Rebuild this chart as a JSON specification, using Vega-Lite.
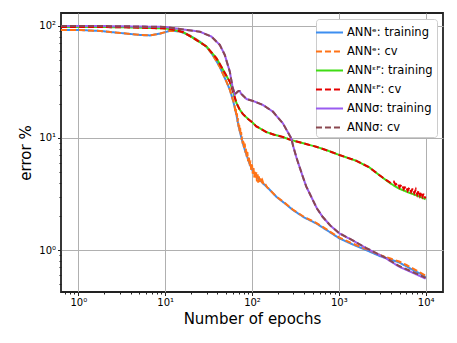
{
  "$schema": "https://vega.github.io/schema/vega-lite/v6.json",
  "width": 382,
  "height": 279,
  "autosize": {"type": "none"},
  "padding": {"left": 61, "top": 13, "right": 14, "bottom": 51},
  "background": "white",
  "config": {
    "font": "DejaVu Sans",
    "view": {"stroke": "#222222", "strokeWidth": 1.8},
    "axis": {
      "domain": false,
      "labelFont": "DejaVu Sans",
      "labelFontSize": 10,
      "labelColor": "black",
      "labelPadding": 2,
      "labelOverlap": false,
      "labelFlush": false,
      "tickColor": "#222222",
      "tickWidth": 1,
      "grid": true,
      "gridColor": "#b0b0b0",
      "gridWidth": 1,
      "titleFont": "DejaVu Sans",
      "titleFontSize": 15,
      "titleFontWeight": "normal",
      "titleColor": "black"
    },
    "legend": {
      "orient": "top-right",
      "offset": 6,
      "symbolType": "M-1.59,0L1.59,0",
      "symbolStrokeWidth": 2,
      "symbolSize": 289,
      "labelFont": "DejaVu Sans",
      "labelFontSize": 11.5,
      "labelColor": "black",
      "labelLimit": 0,
      "labelOffset": 8,
      "rowPadding": 4,
      "fillColor": "white",
      "strokeColor": "#cccccc",
      "cornerRadius": 3,
      "padding": 4
    }
  },
  "data": {"values": [
    {"s": "ANNᵉ: training", "x": 0.631, "y": 92.1},
    {"s": "ANNᵉ: training", "x": 1, "y": 92.1},
    {"s": "ANNᵉ: training", "x": 1.79, "y": 90.2},
    {"s": "ANNᵉ: training", "x": 3.03, "y": 86.6},
    {"s": "ANNᵉ: training", "x": 5.15, "y": 83.1},
    {"s": "ANNᵉ: training", "x": 6.7, "y": 82.3},
    {"s": "ANNᵉ: training", "x": 8.73, "y": 85.5},
    {"s": "ANNᵉ: training", "x": 11.4, "y": 90.5},
    {"s": "ANNᵉ: training", "x": 14.8, "y": 89.5},
    {"s": "ANNᵉ: training", "x": 19.3, "y": 82},
    {"s": "ANNᵉ: training", "x": 25.1, "y": 72.4},
    {"s": "ANNᵉ: training", "x": 30, "y": 65},
    {"s": "ANNᵉ: training", "x": 34.2, "y": 57},
    {"s": "ANNᵉ: training", "x": 39, "y": 48.5},
    {"s": "ANNᵉ: training", "x": 42.6, "y": 43},
    {"s": "ANNᵉ: training", "x": 46.5, "y": 37},
    {"s": "ANNᵉ: training", "x": 50.8, "y": 31.8},
    {"s": "ANNᵉ: training", "x": 55.5, "y": 27},
    {"s": "ANNᵉ: training", "x": 58, "y": 24.2},
    {"s": "ANNᵉ: training", "x": 62, "y": 20},
    {"s": "ANNᵉ: training", "x": 66.2, "y": 16.0},
    {"s": "ANNᵉ: training", "x": 70, "y": 12.8},
    {"s": "ANNᵉ: training", "x": 75.6, "y": 10.0},
    {"s": "ANNᵉ: training", "x": 80, "y": 8.5},
    {"s": "ANNᵉ: training", "x": 86.2, "y": 7.1},
    {"s": "ANNᵉ: training", "x": 94.1, "y": 5.85},
    {"s": "ANNᵉ: training", "x": 102.7, "y": 5.0},
    {"s": "ANNᵉ: training", "x": 115, "y": 4.45},
    {"s": "ANNᵉ: training", "x": 133.7, "y": 3.94},
    {"s": "ANNᵉ: training", "x": 160, "y": 3.45},
    {"s": "ANNᵉ: training", "x": 190.5, "y": 2.99},
    {"s": "ANNᵉ: training", "x": 240, "y": 2.6},
    {"s": "ANNᵉ: training", "x": 295, "y": 2.28},
    {"s": "ANNᵉ: training", "x": 400, "y": 1.95},
    {"s": "ANNᵉ: training", "x": 548, "y": 1.73},
    {"s": "ANNᵉ: training", "x": 750, "y": 1.48},
    {"s": "ANNᵉ: training", "x": 1015, "y": 1.27},
    {"s": "ANNᵉ: training", "x": 1450, "y": 1.12},
    {"s": "ANNᵉ: training", "x": 2055, "y": 1.0},
    {"s": "ANNᵉ: training", "x": 3000, "y": 0.88},
    {"s": "ANNᵉ: training", "x": 4000, "y": 0.82},
    {"s": "ANNᵉ: training", "x": 4952, "y": 0.775},
    {"s": "ANNᵉ: training", "x": 6000, "y": 0.715},
    {"s": "ANNᵉ: training", "x": 7000, "y": 0.67},
    {"s": "ANNᵉ: training", "x": 8500, "y": 0.62},
    {"s": "ANNᵉ: training", "x": 10000, "y": 0.575},

    {"s": "ANNᵉ: cv", "x": 0.631, "y": 92.1},
    {"s": "ANNᵉ: cv", "x": 1, "y": 92.1},
    {"s": "ANNᵉ: cv", "x": 1.79, "y": 90.2},
    {"s": "ANNᵉ: cv", "x": 3.03, "y": 86.6},
    {"s": "ANNᵉ: cv", "x": 5.15, "y": 83.1},
    {"s": "ANNᵉ: cv", "x": 6.7, "y": 82.3},
    {"s": "ANNᵉ: cv", "x": 8.73, "y": 85.5},
    {"s": "ANNᵉ: cv", "x": 11.4, "y": 90.5},
    {"s": "ANNᵉ: cv", "x": 14.8, "y": 89.5},
    {"s": "ANNᵉ: cv", "x": 19.3, "y": 82},
    {"s": "ANNᵉ: cv", "x": 25.1, "y": 72.4},
    {"s": "ANNᵉ: cv", "x": 30, "y": 65},
    {"s": "ANNᵉ: cv", "x": 34.2, "y": 57},
    {"s": "ANNᵉ: cv", "x": 39, "y": 48.5},
    {"s": "ANNᵉ: cv", "x": 42.6, "y": 43},
    {"s": "ANNᵉ: cv", "x": 46.5, "y": 37},
    {"s": "ANNᵉ: cv", "x": 50.8, "y": 31.8},
    {"s": "ANNᵉ: cv", "x": 55.5, "y": 27},
    {"s": "ANNᵉ: cv", "x": 58, "y": 24.2},
    {"s": "ANNᵉ: cv", "x": 60.5, "y": 21.8},
    {"s": "ANNᵉ: cv", "x": 62, "y": 20.5},
    {"s": "ANNᵉ: cv", "x": 63, "y": 19.6},
    {"s": "ANNᵉ: cv", "x": 64, "y": 17.4},
    {"s": "ANNᵉ: cv", "x": 65, "y": 18.4},
    {"s": "ANNᵉ: cv", "x": 66, "y": 15.6},
    {"s": "ANNᵉ: cv", "x": 67, "y": 16.6},
    {"s": "ANNᵉ: cv", "x": 68, "y": 14.0},
    {"s": "ANNᵉ: cv", "x": 69, "y": 15.0},
    {"s": "ANNᵉ: cv", "x": 70, "y": 12.6},
    {"s": "ANNᵉ: cv", "x": 71, "y": 13.5},
    {"s": "ANNᵉ: cv", "x": 72, "y": 11.5},
    {"s": "ANNᵉ: cv", "x": 73, "y": 12.3},
    {"s": "ANNᵉ: cv", "x": 74, "y": 10.5},
    {"s": "ANNᵉ: cv", "x": 75, "y": 11.3},
    {"s": "ANNᵉ: cv", "x": 76, "y": 9.6},
    {"s": "ANNᵉ: cv", "x": 77, "y": 10.3},
    {"s": "ANNᵉ: cv", "x": 78, "y": 8.9},
    {"s": "ANNᵉ: cv", "x": 79.5, "y": 9.6},
    {"s": "ANNᵉ: cv", "x": 81, "y": 8.1},
    {"s": "ANNᵉ: cv", "x": 82.5, "y": 8.9},
    {"s": "ANNᵉ: cv", "x": 84, "y": 7.4},
    {"s": "ANNᵉ: cv", "x": 85.5, "y": 8.1},
    {"s": "ANNᵉ: cv", "x": 87, "y": 6.8},
    {"s": "ANNᵉ: cv", "x": 88.5, "y": 7.5},
    {"s": "ANNᵉ: cv", "x": 90, "y": 6.2},
    {"s": "ANNᵉ: cv", "x": 92, "y": 6.9},
    {"s": "ANNᵉ: cv", "x": 94, "y": 5.6},
    {"s": "ANNᵉ: cv", "x": 96, "y": 6.3},
    {"s": "ANNᵉ: cv", "x": 98, "y": 5.2},
    {"s": "ANNᵉ: cv", "x": 100, "y": 5.8},
    {"s": "ANNᵉ: cv", "x": 102, "y": 4.8},
    {"s": "ANNᵉ: cv", "x": 104, "y": 5.45},
    {"s": "ANNᵉ: cv", "x": 106, "y": 4.45},
    {"s": "ANNᵉ: cv", "x": 108, "y": 5.15},
    {"s": "ANNᵉ: cv", "x": 110, "y": 4.3},
    {"s": "ANNᵉ: cv", "x": 112, "y": 4.95},
    {"s": "ANNᵉ: cv", "x": 114, "y": 4.1},
    {"s": "ANNᵉ: cv", "x": 116, "y": 4.75},
    {"s": "ANNᵉ: cv", "x": 118, "y": 4.0},
    {"s": "ANNᵉ: cv", "x": 120, "y": 4.55},
    {"s": "ANNᵉ: cv", "x": 123, "y": 3.95},
    {"s": "ANNᵉ: cv", "x": 126, "y": 4.35},
    {"s": "ANNᵉ: cv", "x": 129, "y": 3.9},
    {"s": "ANNᵉ: cv", "x": 132, "y": 4.15},
    {"s": "ANNᵉ: cv", "x": 136, "y": 3.85},
    {"s": "ANNᵉ: cv", "x": 140, "y": 3.95},
    {"s": "ANNᵉ: cv", "x": 150, "y": 3.62},
    {"s": "ANNᵉ: cv", "x": 160, "y": 3.45},
    {"s": "ANNᵉ: cv", "x": 190.5, "y": 3.0},
    {"s": "ANNᵉ: cv", "x": 240, "y": 2.62},
    {"s": "ANNᵉ: cv", "x": 295, "y": 2.3},
    {"s": "ANNᵉ: cv", "x": 400, "y": 1.97},
    {"s": "ANNᵉ: cv", "x": 548, "y": 1.75},
    {"s": "ANNᵉ: cv", "x": 750, "y": 1.5},
    {"s": "ANNᵉ: cv", "x": 1015, "y": 1.29},
    {"s": "ANNᵉ: cv", "x": 1450, "y": 1.14},
    {"s": "ANNᵉ: cv", "x": 2055, "y": 1.02},
    {"s": "ANNᵉ: cv", "x": 3000, "y": 0.9},
    {"s": "ANNᵉ: cv", "x": 4000, "y": 0.835},
    {"s": "ANNᵉ: cv", "x": 4952, "y": 0.79},
    {"s": "ANNᵉ: cv", "x": 6000, "y": 0.735},
    {"s": "ANNᵉ: cv", "x": 7000, "y": 0.69},
    {"s": "ANNᵉ: cv", "x": 8500, "y": 0.635},
    {"s": "ANNᵉ: cv", "x": 10000, "y": 0.59},

    {"s": "ANNᵋᴾ: training", "x": 0.631, "y": 98},
    {"s": "ANNᵋᴾ: training", "x": 1, "y": 98},
    {"s": "ANNᵋᴾ: training", "x": 3, "y": 97.5},
    {"s": "ANNᵋᴾ: training", "x": 6.7, "y": 96},
    {"s": "ANNᵋᴾ: training", "x": 10, "y": 95},
    {"s": "ANNᵋᴾ: training", "x": 13, "y": 92},
    {"s": "ANNᵋᴾ: training", "x": 16.2, "y": 88},
    {"s": "ANNᵋᴾ: training", "x": 21, "y": 78},
    {"s": "ANNᵋᴾ: training", "x": 25.1, "y": 71.5},
    {"s": "ANNᵋᴾ: training", "x": 30, "y": 65.4},
    {"s": "ANNᵋᴾ: training", "x": 39, "y": 51.5},
    {"s": "ANNᵋᴾ: training", "x": 46.5, "y": 40.5},
    {"s": "ANNᵋᴾ: training", "x": 55.5, "y": 31.8},
    {"s": "ANNᵋᴾ: training", "x": 60.5, "y": 26},
    {"s": "ANNᵋᴾ: training", "x": 66.2, "y": 20.5},
    {"s": "ANNᵋᴾ: training", "x": 72, "y": 18},
    {"s": "ANNᵋᴾ: training", "x": 78.8, "y": 16.3},
    {"s": "ANNᵋᴾ: training", "x": 90, "y": 14.8},
    {"s": "ANNᵋᴾ: training", "x": 102.7, "y": 13.6},
    {"s": "ANNᵋᴾ: training", "x": 112, "y": 12.7},
    {"s": "ANNᵋᴾ: training", "x": 146, "y": 11.3},
    {"s": "ANNᵋᴾ: training", "x": 180, "y": 10.7},
    {"s": "ANNᵋᴾ: training", "x": 227, "y": 10.2},
    {"s": "ANNᵋᴾ: training", "x": 271, "y": 9.7},
    {"s": "ANNᵋᴾ: training", "x": 353, "y": 9.15},
    {"s": "ANNᵋᴾ: training", "x": 450, "y": 8.7},
    {"s": "ANNᵋᴾ: training", "x": 548, "y": 8.36},
    {"s": "ANNᵋᴾ: training", "x": 750, "y": 7.7},
    {"s": "ANNᵋᴾ: training", "x": 1015, "y": 7.05},
    {"s": "ANNᵋᴾ: training", "x": 1578, "y": 6.27},
    {"s": "ANNᵋᴾ: training", "x": 2241, "y": 5.47},
    {"s": "ANNᵋᴾ: training", "x": 2920, "y": 4.67},
    {"s": "ANNᵋᴾ: training", "x": 3500, "y": 4.2},
    {"s": "ANNᵋᴾ: training", "x": 4000, "y": 3.9},
    {"s": "ANNᵋᴾ: training", "x": 4952, "y": 3.53},
    {"s": "ANNᵋᴾ: training", "x": 6000, "y": 3.32},
    {"s": "ANNᵋᴾ: training", "x": 7039, "y": 3.17},
    {"s": "ANNᵋᴾ: training", "x": 8500, "y": 3.0},
    {"s": "ANNᵋᴾ: training", "x": 10000, "y": 2.84},

    {"s": "ANNᵋᴾ: cv", "x": 0.631, "y": 98},
    {"s": "ANNᵋᴾ: cv", "x": 1, "y": 98},
    {"s": "ANNᵋᴾ: cv", "x": 3, "y": 97.5},
    {"s": "ANNᵋᴾ: cv", "x": 6.7, "y": 96},
    {"s": "ANNᵋᴾ: cv", "x": 10, "y": 95},
    {"s": "ANNᵋᴾ: cv", "x": 13, "y": 92},
    {"s": "ANNᵋᴾ: cv", "x": 16.2, "y": 88},
    {"s": "ANNᵋᴾ: cv", "x": 21, "y": 78},
    {"s": "ANNᵋᴾ: cv", "x": 25.1, "y": 71.5},
    {"s": "ANNᵋᴾ: cv", "x": 30, "y": 65.4},
    {"s": "ANNᵋᴾ: cv", "x": 39, "y": 51.5},
    {"s": "ANNᵋᴾ: cv", "x": 46.5, "y": 40.5},
    {"s": "ANNᵋᴾ: cv", "x": 55.5, "y": 31.8},
    {"s": "ANNᵋᴾ: cv", "x": 60.5, "y": 26},
    {"s": "ANNᵋᴾ: cv", "x": 66.2, "y": 20.5},
    {"s": "ANNᵋᴾ: cv", "x": 72, "y": 18},
    {"s": "ANNᵋᴾ: cv", "x": 78.8, "y": 16.3},
    {"s": "ANNᵋᴾ: cv", "x": 90, "y": 14.8},
    {"s": "ANNᵋᴾ: cv", "x": 102.7, "y": 13.6},
    {"s": "ANNᵋᴾ: cv", "x": 112, "y": 12.7},
    {"s": "ANNᵋᴾ: cv", "x": 146, "y": 11.3},
    {"s": "ANNᵋᴾ: cv", "x": 180, "y": 10.7},
    {"s": "ANNᵋᴾ: cv", "x": 227, "y": 10.2},
    {"s": "ANNᵋᴾ: cv", "x": 271, "y": 9.7},
    {"s": "ANNᵋᴾ: cv", "x": 353, "y": 9.15},
    {"s": "ANNᵋᴾ: cv", "x": 450, "y": 8.7},
    {"s": "ANNᵋᴾ: cv", "x": 548, "y": 8.36},
    {"s": "ANNᵋᴾ: cv", "x": 750, "y": 7.7},
    {"s": "ANNᵋᴾ: cv", "x": 1015, "y": 7.05},
    {"s": "ANNᵋᴾ: cv", "x": 1578, "y": 6.27},
    {"s": "ANNᵋᴾ: cv", "x": 2241, "y": 5.47},
    {"s": "ANNᵋᴾ: cv", "x": 2920, "y": 4.67},
    {"s": "ANNᵋᴾ: cv", "x": 3500, "y": 4.22},
    {"s": "ANNᵋᴾ: cv", "x": 4000, "y": 3.95},
    {"s": "ANNᵋᴾ: cv", "x": 4300, "y": 4.08},
    {"s": "ANNᵋᴾ: cv", "x": 4500, "y": 3.82},
    {"s": "ANNᵋᴾ: cv", "x": 4800, "y": 3.97},
    {"s": "ANNᵋᴾ: cv", "x": 5000, "y": 3.62},
    {"s": "ANNᵋᴾ: cv", "x": 5300, "y": 3.86},
    {"s": "ANNᵋᴾ: cv", "x": 5600, "y": 3.5},
    {"s": "ANNᵋᴾ: cv", "x": 5900, "y": 3.72},
    {"s": "ANNᵋᴾ: cv", "x": 6200, "y": 3.38},
    {"s": "ANNᵋᴾ: cv", "x": 6500, "y": 3.62},
    {"s": "ANNᵋᴾ: cv", "x": 6800, "y": 3.3},
    {"s": "ANNᵋᴾ: cv", "x": 7100, "y": 3.55},
    {"s": "ANNᵋᴾ: cv", "x": 7400, "y": 3.22},
    {"s": "ANNᵋᴾ: cv", "x": 7700, "y": 3.47},
    {"s": "ANNᵋᴾ: cv", "x": 8000, "y": 3.12},
    {"s": "ANNᵋᴾ: cv", "x": 8300, "y": 3.4},
    {"s": "ANNᵋᴾ: cv", "x": 8600, "y": 3.06},
    {"s": "ANNᵋᴾ: cv", "x": 8900, "y": 3.3},
    {"s": "ANNᵋᴾ: cv", "x": 9200, "y": 3.0},
    {"s": "ANNᵋᴾ: cv", "x": 9500, "y": 3.2},
    {"s": "ANNᵋᴾ: cv", "x": 9800, "y": 2.95},
    {"s": "ANNᵋᴾ: cv", "x": 10000, "y": 2.9},

    {"s": "ANNσ: training", "x": 0.631, "y": 100},
    {"s": "ANNσ: training", "x": 1, "y": 100},
    {"s": "ANNσ: training", "x": 3, "y": 99.5},
    {"s": "ANNσ: training", "x": 10, "y": 98},
    {"s": "ANNσ: training", "x": 16.2, "y": 93},
    {"s": "ANNσ: training", "x": 25.1, "y": 88.9},
    {"s": "ANNσ: training", "x": 34.2, "y": 80.3},
    {"s": "ANNσ: training", "x": 42.6, "y": 67.7},
    {"s": "ANNσ: training", "x": 48.6, "y": 55.1},
    {"s": "ANNσ: training", "x": 55.5, "y": 39.1},
    {"s": "ANNσ: training", "x": 59.6, "y": 28.7},
    {"s": "ANNσ: training", "x": 63.3, "y": 24.5},
    {"s": "ANNσ: training", "x": 67.3, "y": 25.6},
    {"s": "ANNσ: training", "x": 70, "y": 26.3},
    {"s": "ANNσ: training", "x": 72.3, "y": 26.2},
    {"s": "ANNσ: training", "x": 75, "y": 24.8},
    {"s": "ANNσ: training", "x": 77.6, "y": 24.2},
    {"s": "ANNσ: training", "x": 86.2, "y": 22.3},
    {"s": "ANNσ: training", "x": 102.7, "y": 21.4},
    {"s": "ANNσ: training", "x": 133.7, "y": 19.7},
    {"s": "ANNσ: training", "x": 174, "y": 17.2},
    {"s": "ANNσ: training", "x": 227, "y": 13.5},
    {"s": "ANNσ: training", "x": 283, "y": 9.94},
    {"s": "ANNσ: training", "x": 300, "y": 8.3},
    {"s": "ANNσ: training", "x": 323, "y": 6.8},
    {"s": "ANNσ: training", "x": 337, "y": 6.14},
    {"s": "ANNσ: training", "x": 385, "y": 4.51},
    {"s": "ANNσ: training", "x": 421, "y": 3.7},
    {"s": "ANNσ: training", "x": 501, "y": 2.8},
    {"s": "ANNσ: training", "x": 560, "y": 2.35},
    {"s": "ANNσ: training", "x": 650, "y": 1.98},
    {"s": "ANNσ: training", "x": 800, "y": 1.65},
    {"s": "ANNσ: training", "x": 1015, "y": 1.41},
    {"s": "ANNσ: training", "x": 1500, "y": 1.2},
    {"s": "ANNσ: training", "x": 2055, "y": 1.04},
    {"s": "ANNσ: training", "x": 3485, "y": 0.843},
    {"s": "ANNσ: training", "x": 4952, "y": 0.71},
    {"s": "ANNσ: training", "x": 7000, "y": 0.63},
    {"s": "ANNσ: training", "x": 10000, "y": 0.555},

    {"s": "ANNσ: cv", "x": 0.631, "y": 100},
    {"s": "ANNσ: cv", "x": 1, "y": 100},
    {"s": "ANNσ: cv", "x": 3, "y": 99.5},
    {"s": "ANNσ: cv", "x": 10, "y": 98},
    {"s": "ANNσ: cv", "x": 16.2, "y": 93},
    {"s": "ANNσ: cv", "x": 25.1, "y": 88.9},
    {"s": "ANNσ: cv", "x": 34.2, "y": 80.3},
    {"s": "ANNσ: cv", "x": 42.6, "y": 67.7},
    {"s": "ANNσ: cv", "x": 48.6, "y": 55.1},
    {"s": "ANNσ: cv", "x": 55.5, "y": 39.1},
    {"s": "ANNσ: cv", "x": 59.6, "y": 28.7},
    {"s": "ANNσ: cv", "x": 63.3, "y": 24.5},
    {"s": "ANNσ: cv", "x": 67.3, "y": 25.6},
    {"s": "ANNσ: cv", "x": 70, "y": 26.3},
    {"s": "ANNσ: cv", "x": 72.3, "y": 26.2},
    {"s": "ANNσ: cv", "x": 75, "y": 24.8},
    {"s": "ANNσ: cv", "x": 77.6, "y": 24.2},
    {"s": "ANNσ: cv", "x": 86.2, "y": 22.3},
    {"s": "ANNσ: cv", "x": 102.7, "y": 21.4},
    {"s": "ANNσ: cv", "x": 133.7, "y": 19.7},
    {"s": "ANNσ: cv", "x": 174, "y": 17.2},
    {"s": "ANNσ: cv", "x": 227, "y": 13.5},
    {"s": "ANNσ: cv", "x": 283, "y": 9.94},
    {"s": "ANNσ: cv", "x": 300, "y": 8.3},
    {"s": "ANNσ: cv", "x": 323, "y": 6.8},
    {"s": "ANNσ: cv", "x": 337, "y": 6.14},
    {"s": "ANNσ: cv", "x": 385, "y": 4.51},
    {"s": "ANNσ: cv", "x": 421, "y": 3.7},
    {"s": "ANNσ: cv", "x": 501, "y": 2.8},
    {"s": "ANNσ: cv", "x": 560, "y": 2.35},
    {"s": "ANNσ: cv", "x": 650, "y": 1.98},
    {"s": "ANNσ: cv", "x": 800, "y": 1.65},
    {"s": "ANNσ: cv", "x": 1015, "y": 1.41},
    {"s": "ANNσ: cv", "x": 1500, "y": 1.2},
    {"s": "ANNσ: cv", "x": 2055, "y": 1.045},
    {"s": "ANNσ: cv", "x": 3485, "y": 0.85},
    {"s": "ANNσ: cv", "x": 4952, "y": 0.72},
    {"s": "ANNσ: cv", "x": 7000, "y": 0.64},
    {"s": "ANNσ: cv", "x": 10000, "y": 0.565}
  ]},
  "mark": {"type": "line", "strokeWidth": 2, "clip": true},
  "encoding": {
    "x": {
      "field": "x", "type": "quantitative",
      "scale": {"type": "log", "domain": [0.631, 15849], "nice": false},
      "axis": {
        "title": "Number of epochs",
        "titlePadding": 4,
        "values": [0.7, 0.8, 0.9, 1, 2, 3, 4, 5, 6, 7, 8, 9, 10, 20, 30, 40, 50, 60, 70, 80, 90, 100, 200, 300, 400, 500, 600, 700, 800, 900, 1000, 2000, 3000, 4000, 5000, 6000, 7000, 8000, 9000, 10000],
        "labelExpr": "abs(log(datum.value)/LN10 - round(log(datum.value)/LN10)) < 0.001 ? '10' + ['⁰','¹','²','³','⁴'][round(log(datum.value)/LN10)] : ''",
        "tickSize": {"condition": {"test": "abs(log(datum.value)/LN10 - round(log(datum.value)/LN10)) < 0.001", "value": 3.5}, "value": 2},
        "gridOpacity": {"condition": {"test": "abs(log(datum.value)/LN10 - round(log(datum.value)/LN10)) < 0.001", "value": 1}, "value": 0}
      }
    },
    "y": {
      "field": "y", "type": "quantitative",
      "scale": {"type": "log", "domain": [0.422, 130.5], "nice": false},
      "axis": {
        "title": "error %",
        "titlePadding": 5,
        "values": [0.5, 0.6, 0.7, 0.8, 0.9, 1, 2, 3, 4, 5, 6, 7, 8, 9, 10, 20, 30, 40, 50, 60, 70, 80, 90, 100],
        "labelExpr": "abs(log(datum.value)/LN10 - round(log(datum.value)/LN10)) < 0.001 ? '10' + ['⁰','¹','²','³','⁴'][round(log(datum.value)/LN10)] : ''",
        "tickSize": {"condition": {"test": "abs(log(datum.value)/LN10 - round(log(datum.value)/LN10)) < 0.001", "value": 3.5}, "value": 2},
        "gridOpacity": {"condition": {"test": "abs(log(datum.value)/LN10 - round(log(datum.value)/LN10)) < 0.001", "value": 1}, "value": 0}
      }
    },
    "color": {
      "field": "s", "type": "nominal",
      "scale": {
        "domain": ["ANNᵉ: training", "ANNᵉ: cv", "ANNᵋᴾ: training", "ANNᵋᴾ: cv", "ANNσ: training", "ANNσ: cv"],
        "range": ["#3d8ef0", "#ff7316", "#40dc14", "#e50000", "#9a5cf0", "#8a4850"]
      },
      "legend": {"title": null}
    },
    "strokeDash": {
      "field": "s", "type": "nominal",
      "scale": {
        "domain": ["ANNᵉ: training", "ANNᵉ: cv", "ANNᵋᴾ: training", "ANNᵋᴾ: cv", "ANNσ: training", "ANNσ: cv"],
        "range": [[1, 0], [6, 3], [1, 0], [6, 3], [1, 0], [6, 3]]
      },
      "legend": {"title": null}
    }
  }
}
